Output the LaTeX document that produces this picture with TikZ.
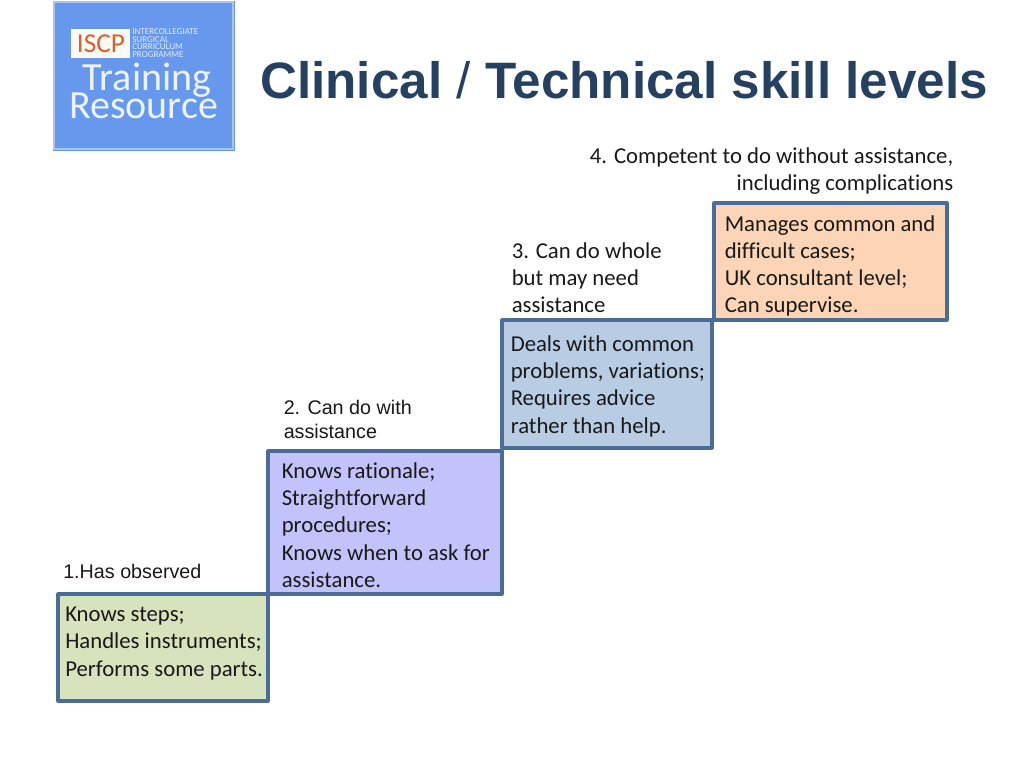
\documentclass[tikz,border=0pt]{standalone}
\usepackage{fontspec}
\setmainfont[RawFeature=-liga]{Carlito}
\newfontfamily\arialf{Liberation Sans}
\definecolor{boxline}{HTML}{4A6C96}
\definecolor{titleblue}{HTML}{254061}
\definecolor{logoblue}{HTML}{6699EE}
\definecolor{logoline}{HTML}{A9C4F0}
\definecolor{iscp}{HTML}{D9622B}
\definecolor{greenfill}{HTML}{D7E3BC}
\definecolor{violetfill}{HTML}{C3C3FB}
\definecolor{bluefill}{HTML}{B8CCE4}
\definecolor{peachfill}{HTML}{FBD5B5}
\tikzset{
  x=0.75pt,y=-0.75pt,
  stepbox/.style={draw=boxline,line width=2.3pt,line join=round},
  bodytext/.style={anchor=north west,inner sep=0pt,align=left,text=black!90,font=\fontsize{17.05}{20.4}\selectfont},
  armtext/.style={anchor=north west,inner sep=0pt,align=left,text=black!90,font=\arialf\fontsize{14.8}{18}\selectfont},
  logotext/.style={anchor=base,inner sep=0pt,text=white!88!logoblue,font=\fontsize{30}{32}\selectfont},
  logosmall/.style={anchor=west,inner sep=0pt,text=white!80!logoblue,font=\fontsize{6.8}{7}\selectfont},
}
\begin{document}
\begin{tikzpicture}
\useasboundingbox (0,0) rectangle (1024,768);
% logo
\fill[logoblue] (52.5,0.5) rectangle (234.5,151);
\draw[logoline,line width=0.8pt] (54,2) rectangle (233,149);
\fill[white!96!iscp] (71,29) rectangle (130,58);
\node[inner sep=0pt,text=iscp,font=\fontsize{20.5}{21}\selectfont] (iscp) at (101,44) {ISCP};
\node[logosmall] (l1) at (132,32) {INTERCOLLEGIATE};
\node[logosmall] (l2) at (132,39.5) {SURGICAL};
\node[logosmall] (l3) at (132,47) {CURRICULUM};
\node[logosmall] (l4) at (132,55) {PROGRAMME};
\node[logotext] (tr) at (147,90) {Training};
\node[logotext] (re) at (143.5,118) {Resource};
% title
\node[inner sep=0pt,anchor=base west,text=titleblue,font=\arialf\bfseries\fontsize{38.4}{42}\selectfont] (title) at (260,98) {Clinical {\mdseries /} Technical skill levels};
% boxes
\draw[stepbox,fill=greenfill] (58,594) rectangle (268,701);
\draw[stepbox,fill=violetfill] (268,451) rectangle (502,594);
\draw[stepbox,fill=bluefill] (502,320) rectangle (712,448);
\draw[stepbox,fill=peachfill] (714,203) rectangle (947,320);
% box text
\node[bodytext] (t1) at (65,606.8) {Knows steps;\\Handles instruments;\\Performs some parts.};
\node[bodytext] (t2) at (281.5,462.5) {Knows rationale;\\Straightforward\\procedures;\\Knows when to ask for\\assistance.};
\node[bodytext] (t3) at (510.5,335.5) {Deals with common\\problems, variations;\\Requires advice\\rather than help.};
\node[bodytext] (t4) at (724.5,215) {Manages common and\\difficult cases;\\UK consultant level;\\Can supervise.};
% level labels
\node[armtext] (a1) at (63,564) {1.Has observed};
\node[armtext] (a2) at (283.5,400) {2. Can do with\\assistance};
\node[bodytext] (a3) at (511.5,242) {3. Can do whole\\but may need\\assistance};
\node[bodytext,anchor=north east,align=right] (a4) at (953.5,147.5) {4. Competent to do without assistance,\\including complications};
\end{tikzpicture}
\end{document}
